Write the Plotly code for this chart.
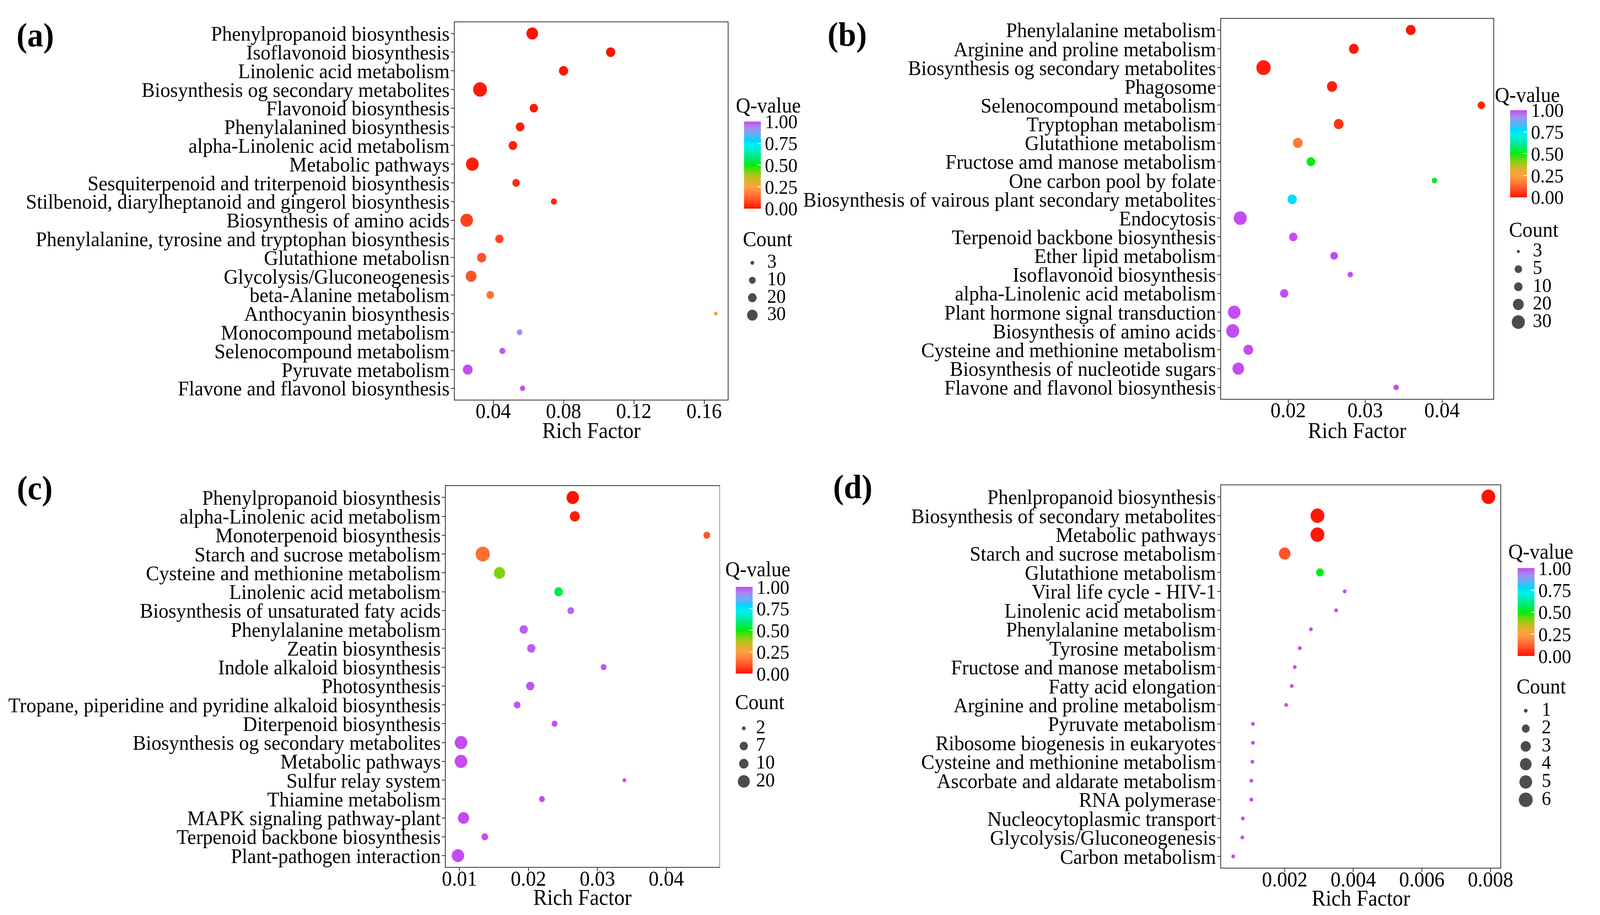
import numpy as np
import plotly.graph_objects as go

W, H = 4273, 2342
FONT = "Liberation Serif, Times New Roman, serif"

# ---- data: (a) ----
a_terms = ["Phenylpropanoid biosynthesis", "Isoflavonoid biosynthesis", "Linolenic acid metabolism",
           "Biosynthesis og secondary metabolites", "Flavonoid biosynthesis", "Phenylalanined biosynthesis",
           "alpha-Linolenic acid metabolism", "Metabolic pathways",
           "Sesquiterpenoid and triterpenoid biosynthesis",
           "Stilbenoid, diarylheptanoid and gingerol biosynthesis", "Biosynthesis of amino acids",
           "Phenylalanine, tyrosine and tryptophan biosynthesis", "Glutathione metabolisn",
           "Glycolysis/Gluconeogenesis", "beta-Alanine metabolism", "Anthocyanin biosynthesis",
           "Monocompound metabolism", "Selenocompound metabolism", "Pyruvate metabolism",
           "Flavone and flavonol biosynthesis"]
a_rich = [0.0622, 0.1068, 0.0800, 0.0325, 0.0631, 0.0553, 0.0512, 0.0281, 0.0530, 0.0745,
          0.0249, 0.0435, 0.0334, 0.0274, 0.0383, 0.1666, 0.0550, 0.0452, 0.0255, 0.0567]
a_q = [0.0, 0.0, 0.01, 0.01, 0.01, 0.02, 0.02, 0.02, 0.04, 0.03,
       0.07, 0.08, 0.10, 0.10, 0.15, 0.28, 0.91, 0.98, 1.0, 1.0]
a_count = [37, 23, 23, 53, 18, 20, 20, 45, 14, 8, 43, 18, 23, 32, 14, 3, 7, 8, 26, 6]
a_breaks = [3, 10, 20, 30]

# ---- data: (b) ----
b_terms = ["Phenylalanine metabolism", "Arginine and proline metabolism",
           "Biosynthesis og secondary metabolites", "Phagosome", "Selenocompound metabolism",
           "Tryptophan metabolism", "Glutathione metabolism", "Fructose amd manose metabolism",
           "One carbon pool by folate", "Biosynthesis of vairous plant secondary metabolites",
           "Endocytosis", "Terpenoid backbone biosynthesis", "Ether lipid metabolism",
           "Isoflavonoid biosynthesis", "alpha-Linolenic acid metabolism",
           "Plant hormone signal transduction", "Biosynthesis of amino acids",
           "Cysteine and methionine metabolism", "Biosynthesis of nucleotide sugars",
           "Flavone and flavonol biosynthesis"]
b_rich = [0.03593, 0.02853, 0.01679, 0.02570, 0.04511, 0.02656, 0.02125, 0.02295, 0.03902, 0.02052,
          0.01377, 0.02066, 0.02597, 0.02807, 0.01948, 0.01298, 0.01279, 0.01482, 0.01351, 0.03403]
b_q = [0.0, 0.01, 0.02, 0.02, 0.03, 0.05, 0.17, 0.50, 0.52, 0.77,
       1.0, 1.0, 1.0, 1.0, 1.0, 1.0, 1.0, 1.0, 1.0, 1.0]
b_count = [15, 15, 36, 17, 5, 15, 15, 11, 4, 13, 30, 9, 5, 4, 9, 28, 30, 15, 23, 4]
b_breaks = [3, 5, 10, 20, 30]

# ---- data: (c) ----
c_terms = ["Phenylpropanoid biosynthesis", "alpha-Linolenic acid metabolism",
           "Monoterpenoid biosynthesis", "Starch and sucrose metabolism",
           "Cysteine and methionine metabolism", "Linolenic acid metabolism",
           "Biosynthesis of unsaturated faty acids", "Phenylalanine metabolism", "Zeatin biosynthesis",
           "Indole alkaloid biosynthesis", "Photosynthesis",
           "Tropane, piperidine and pyridine alkaloid biosynthesis", "Diterpenoid biosynthesis",
           "Biosynthesis og secondary metabolites", "Metabolic pathways", "Sulfur relay system",
           "Thiamine metabolism", "MAPK signaling pathway-plant", "Terpenoid backbone biosynthesis",
           "Plant-pathogen interaction"]
c_rich = [0.02643, 0.02673, 0.04588, 0.01337, 0.01580, 0.02438, 0.02614, 0.01932, 0.02042, 0.03091,
          0.02027, 0.01836, 0.02379, 0.01022, 0.01022, 0.03392, 0.02196, 0.01059, 0.01367, 0.00978]
c_q = [0.0, 0.02, 0.10, 0.15, 0.42, 0.55, 0.97, 0.98, 0.98, 0.99,
       0.99, 0.99, 1.0, 1.0, 1.0, 1.0, 1.0, 1.0, 1.0, 1.0]
c_count = [22, 12, 5, 31, 17, 8, 5, 7, 7, 4, 7, 5, 4, 23, 23, 2, 4, 17, 5, 22]
c_breaks = [2, 7, 10, 20]

# ---- data: (d) ----
d_terms = ["Phenlpropanoid biosynthesis", "Biosynthesis of secondary metabolites", "Metabolic pathways",
           "Starch and sucrose metabolism", "Glutathione metabolism", "Viral life cycle - HIV-1",
           "Linolenic acid metabolism", "Phenylalanine metabolism", "Tyrosine metabolism",
           "Fructose and manose metabolism", "Fatty acid elongation", "Arginine and proline metabolism",
           "Pyruvate metabolism", "Ribosome biogenesis in eukaryotes", "Cysteine and methionine metabolism",
           "Ascorbate and aldarate metabolism", "RNA polymerase", "Nucleocytoplasmic transport",
           "Glycolysis/Gluconeogenesis", "Carbon metabolism"]
d_rich = [0.00794, 0.002956, 0.002956, 0.00200, 0.003029, 0.00375, 0.00350, 0.002765, 0.002441, 0.002294,
          0.002206, 0.002044, 0.001074, 0.001074, 0.001059, 0.001029, 0.001029, 0.000779, 0.000765, 0.00050]
d_q = [0.0, 0.01, 0.01, 0.10, 0.50, 1.0, 1.0, 1.0, 1.0, 1.0,
       1.0, 1.0, 1.0, 1.0, 1.0, 1.0, 1.0, 1.0, 1.0, 1.0]
d_count = [6, 6, 6, 4, 2, 1, 1, 1, 1, 1, 1, 1, 1, 1, 1, 1, 1, 1, 1, 1]
d_breaks = [1, 2, 3, 4, 5, 6]

q_ticks = [0, 0.25, 0.5, 0.75, 1.0]

colorscale = [[0.0, "#FF1200"], [0.1, "#FF5328"], [0.2, "#FF8A3C"], [0.25, "#FFA040"],
              [0.33, "#D8B428"], [0.42, "#80D210"], [0.5, "#00EE10"], [0.6, "#00EA88"],
              [0.72, "#00F0F0"], [0.78, "#00D8FF"], [0.85, "#60B0F4"], [0.92, "#A090F0"],
              [1.0, "#C44CF2"]]


def size_scale(counts, breaks, diams):
    # ggplot-like area scale: diameter linear in sqrt(count), fitted to legend keys
    s = np.sqrt(np.asarray(counts, float))
    b = np.sqrt(np.asarray(breaks, float))
    d = np.asarray(diams, float)
    out = np.interp(s, b, d)
    hi = s > b[-1]
    out[hi] = d[-1] + (s[hi] - b[-1]) * (d[-1] - d[-2]) / (b[-1] - b[-2])
    lo = s < b[0]
    out[lo] = d[0] - (b[0] - s[lo]) * (d[1] - d[0]) / (b[1] - b[0])
    return out


# layout of each panel (pixels on the W x H canvas)
panels = [
    dict(tag="(a)", terms=a_terms, rich=a_rich, q=a_q, count=a_count, breaks=a_breaks,
         diams=[10, 18, 23, 28], box=(1217, 1954, 57, 1023), xr=[0.0181, 0.1735],
         dtick=0.04, tick0=0.04, fmt=".2f", letter=(85, 90), cb=(1998, 311, 223), qt=(1973, 270),
         ct=(1993, 612), leg=(2020, 2060, 673, 44.7), rf=1102),
    dict(tag="(b)", terms=b_terms, rich=b_rich, q=b_q, count=b_count, breaks=b_breaks,
         diams=[8, 20, 22.5, 29, 35], box=(3285, 4020, 48, 1021), xr=[0.01128, 0.04669],
         dtick=0.01, tick0=0.02, fmt=".2f", letter=(2276, 88), cb=(4065, 282, 223), qt=(4021, 243),
         ct=(4060, 588), leg=(4087, 4126, 644, 45.2), rf=1102),
    dict(tag="(c)", terms=c_terms, rich=c_rich, q=c_q, count=c_count, breaks=c_breaks,
         diams=[10, 22, 25, 32], box=(1193, 1931, 1245, 2220), xr=[0.00802, 0.04770],
         dtick=0.01, tick0=0.01, fmt=".2f", letter=(83, 1250), cb=(1975, 1503, 222), qt=(1945, 1458),
         ct=(1971, 1798), leg=(1997, 2030, 1865, 45.3), rf=2298),
    dict(tag="(d)", terms=d_terms, rich=d_rich, q=d_q, count=d_count, breaks=d_breaks,
         diams=[10, 21, 27, 31, 34, 37], box=(3285, 4039, 1243, 2222), xr=[0.000147, 0.008294],
         dtick=0.002, tick0=0.002, fmt=".3f", letter=(2291, 1247), cb=(4085, 1455, 225), qt=(4058, 1413),
         ct=(4080, 1758), leg=(4107, 4150, 1820, 45.6), rf=2300),
]

fig = go.Figure()
annotations = []
layout = dict(width=W, height=H, margin=dict(l=0, r=0, t=0, b=0, pad=0),
              paper_bgcolor="white", plot_bgcolor="rgba(0,0,0,0)", showlegend=False,
              font=dict(family=FONT, color="black"))

for i, p in enumerate(panels):
    k = i + 1
    sfx = "" if k == 1 else str(k)
    x0, x1, y0, y1 = p["box"]
    n = len(p["terms"])
    sizes = size_scale(p["count"], p["breaks"], p["diams"])
    fig.add_trace(go.Scatter(
        x=p["rich"], y=p["terms"], mode="markers",
        xaxis="x" + sfx, yaxis="y" + sfx,
        marker=dict(size=sizes, sizemode="diameter", color=p["q"], coloraxis="coloraxis" + sfx,
                    line=dict(width=0), opacity=1),
        hovertemplate="%{y}<br>Rich Factor=%{x}<extra></extra>"))

    layout["xaxis" + sfx] = dict(
        domain=[x0 / W, x1 / W], anchor="y" + sfx, range=p["xr"], tick0=p["tick0"], dtick=p["dtick"],
        tickformat=p["fmt"], showgrid=False, zeroline=False, showline=True, mirror=True,
        linecolor="#333333", linewidth=2, ticks="outside", ticklen=9, tickwidth=2, tickcolor="#333333",
        ticklabelstandoff=-28, tickfont=dict(size=54, family=FONT, color="black"))
    layout["yaxis" + sfx] = dict(
        domain=[1 - y1 / H, 1 - y0 / H], anchor="x" + sfx, type="category",
        categoryorder="array", categoryarray=p["terms"], tickmode="array", tickvals=p["terms"],
        range=[n - 1 + 0.6, -0.6],
        showgrid=False, zeroline=False, showline=True, mirror=True,
        linecolor="#333333", linewidth=2, ticks="outside", ticklen=9, tickwidth=2, tickcolor="#333333",
        ticklabelstandoff=-8, tickfont=dict(size=53, family=FONT, color="black"))

    cbx, cby, cblen = p["cb"]
    layout["coloraxis" + sfx] = dict(
        cmin=0, cmax=1, colorscale=colorscale,
        colorbar=dict(x=cbx / W, xanchor="left", y=1 - cby / H, yanchor="top",
                      len=cblen, lenmode="pixels", thickness=45, thicknessmode="pixels",
                      tickvals=q_ticks, tickformat=".2f", ticks="inside", tickcolor="white",
                      ticklen=9, tickwidth=2, outlinewidth=0, xpad=0, ypad=0,
                      tickfont=dict(size=50, family=FONT, color="black")))

    # count legend, drawn on a full-figure overlay axis in canvas pixel units
    mx, lx, ly0, dy = p["leg"]
    ys = [ly0 + j * dy for j in range(len(p["breaks"]))]
    fig.add_trace(go.Scatter(
        x=[mx] * len(ys), y=ys, mode="markers", xaxis="x5", yaxis="y5", hoverinfo="skip",
        marker=dict(size=size_scale(p["breaks"], p["breaks"], p["diams"]), sizemode="diameter",
                    color="black", line=dict(width=0))))
    fig.add_trace(go.Scatter(
        x=[lx] * len(ys), y=ys, mode="text", xaxis="x5", yaxis="y5", hoverinfo="skip",
        text=[str(b) for b in p["breaks"]], textposition="middle right",
        textfont=dict(size=50, family=FONT, color="black")))

    annotations += [
        dict(text="<b>%s</b>" % p["tag"], x=p["letter"][0] / W, y=1 - p["letter"][1] / H,
             xref="paper", yref="paper", xanchor="center", yanchor="middle", showarrow=False,
             font=dict(size=86, family=FONT, color="black")),
        dict(text="Q-value", x=p["qt"][0] / W, y=1 - p["qt"][1] / H, xref="paper", yref="paper",
             xanchor="left", yanchor="middle", showarrow=False,
             font=dict(size=54, family=FONT, color="black")),
        dict(text="Count", x=p["ct"][0] / W, y=1 - p["ct"][1] / H, xref="paper", yref="paper",
             xanchor="left", yanchor="middle", showarrow=False,
             font=dict(size=54, family=FONT, color="black")),
        dict(text="Rich Factor", x=(x0 + x1) / 2 / W, y=1 - p["rf"] / H, xref="paper", yref="paper",
             xanchor="center", yanchor="middle", showarrow=False,
             font=dict(size=56, family=FONT, color="black")),
    ]

layout["xaxis5"] = dict(domain=[0, 1], range=[0, W], anchor="y5", visible=False, fixedrange=True)
layout["yaxis5"] = dict(domain=[0, 1], range=[H, 0], anchor="x5", visible=False, fixedrange=True)
layout["annotations"] = annotations

fig.update_layout(**layout)

# the browser viewport can be narrower than the canvas: scale the whole figure to fit it
post = """
document.body.style.margin = '0';
document.documentElement.style.overflow = 'hidden';
document.body.style.overflow = 'hidden';
var gd = document.getElementById('{plot_id}');
var sx = window.innerWidth / %d, sy = window.innerHeight / %d;
gd.style.transformOrigin = '0 0';
gd.style.transform = 'scale(' + sx + ',' + sy + ')';
""" % (W, H)
fig.write_html("out.html", config={"displayModeBar": False}, post_script=post)
